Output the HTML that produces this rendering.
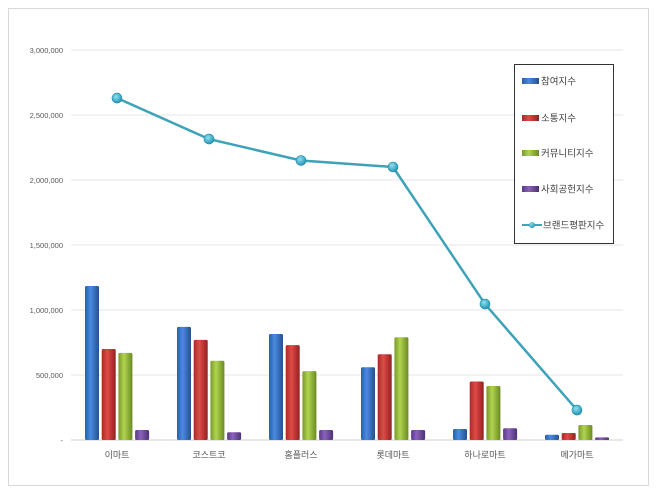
<!DOCTYPE html>
<html><head><meta charset="utf-8"><style>
body{margin:0;background:#fff;font-family:"Liberation Sans","Noto Sans CJK KR",sans-serif;}
</style></head><body>
<svg id="c" width="660" height="495" xmlns="http://www.w3.org/2000/svg">
<defs>
<linearGradient id="gb" x1="0" x2="1"><stop offset="0" stop-color="#2a5fa8"/><stop offset="0.4" stop-color="#4a8ae0"/><stop offset="1" stop-color="#24508f"/></linearGradient>
<linearGradient id="gr" x1="0" x2="1"><stop offset="0" stop-color="#a82a28"/><stop offset="0.4" stop-color="#e04a46"/><stop offset="1" stop-color="#902220"/></linearGradient>
<linearGradient id="gg" x1="0" x2="1"><stop offset="0" stop-color="#7a9a2a"/><stop offset="0.4" stop-color="#b0d450"/><stop offset="1" stop-color="#6a8a22"/></linearGradient>
<linearGradient id="gp" x1="0" x2="1"><stop offset="0" stop-color="#5a3a86"/><stop offset="0.4" stop-color="#8a62b8"/><stop offset="1" stop-color="#4c3074"/></linearGradient>
<radialGradient id="gm" cx="0.4" cy="0.35" r="0.7"><stop offset="0" stop-color="#8fe0f0"/><stop offset="1" stop-color="#1a8fae"/></radialGradient>
</defs>
<rect x="8.5" y="8.5" width="640" height="477" fill="#fff" stroke="#d9d9d9"/>
<g id="grid"></g><g id="bars"></g><g id="line"></g><g id="xl"></g>
<g>
<rect x="514.5" y="64.5" width="99" height="179" fill="#fff" stroke="#333"/>
</g>
<g id="leg"></g>
</svg>
<script>
const categories=["이마트","코스트코","홈플러스","롯데마트","하나로마트","메가마트"];
const participation=[1185000,870000,815000,560000,85000,40000];
const communication=[700000,770000,730000,660000,450000,54000];
const community=[670000,610000,530000,790000,415000,115000];
const social=[77000,60000,77000,77000,90000,20000];
const brandIndex=[2630000,2315000,2150000,2100000,1046000,230000];
const yTicks=[0,500000,1000000,1500000,2000000,2500000,3000000];
const yTickLabels=["-","500,000","1,000,000","1,500,000","2,000,000","2,500,000","3,000,000"];
const seriesNames=["참여지수","소통지수","커뮤니티지수","사회공헌지수","브랜드평판지수"];
const NS="http://www.w3.org/2000/svg";
const x0=71,x1=623,y0=440,yTop=50,yMax=3000000;
const bw=(x1-x0)/categories.length;
const y=v=>y0-(v/yMax)*(y0-yTop);
const xc=i=>x0+bw*(i+0.5);
function mk(t,a,p){const e=document.createElementNS(NS,t);for(const k in a)e.setAttribute(k,a[k]);p.appendChild(e);return e;}
const grid=document.getElementById('grid');
yTicks.forEach((t,i)=>{
 const l=mk('line',{x1:x0,x2:x1,y1:y(t),y2:y(t),stroke:i==0?'#d0d0d0':'#e6e6e6'},grid);
 
 
 const tx=mk('text',{x:63,y:y(t)+3,'text-anchor':'end','font-size':7.5,fill:'#595959'},grid);
 tx.textContent=yTickLabels[i];
 
 
});
const bars=document.getElementById('bars');
const series=[participation,communication,community,social];
const fills=['url(#gb)','url(#gr)','url(#gg)','url(#gp)'];
const names=['bar-participation','bar-communication','bar-community','bar-social'];
const w=14,gap=2.7;
categories.forEach((c,i)=>{
 series.forEach((s,j)=>{
  const bx=xc(i)-32+j*(w+gap);
  const r=mk('rect',{x:bx,y:y(s[i]),width:w,height:y0-y(s[i]),fill:fills[j],rx:1.5},bars);
  
  
 });
 const t=mk('text',{x:xc(i),y:458,'text-anchor':'middle','font-size':9,fill:'#595959'},document.getElementById('xl'));
 t.textContent=c;
 
 
});
const lg=document.getElementById('line');
const pts=brandIndex.map((v,i)=>xc(i)+','+y(v)).join(' ');
const pl=mk('polyline',{points:pts,fill:'none',stroke:'#3ea3b8','stroke-width':2.5},lg);


brandIndex.forEach((v,i)=>{
 const m=mk('circle',{cx:xc(i),cy:y(v),r:5,fill:'url(#gm)',stroke:'#1d8aa5','stroke-width':0.6},lg);
 
 
});
const leg=document.getElementById('leg');
const ly=[81,118,153,189,225];
seriesNames.forEach((n,i)=>{
 if(i<4){const r=mk('rect',{x:522,y:ly[i]-3,width:17,height:6,fill:fills[i]},leg);
  
  }
 else{mk('line',{x1:522,x2:542,y1:ly[i],y2:ly[i],stroke:'#3ea3b8','stroke-width':2},leg);
  const m=mk('circle',{cx:532,cy:ly[i],r:3,fill:'url(#gm)'},leg);
  
  }
 const t=mk('text',{x:i<4?541:543,y:ly[i]+3.5,'font-size':9.5,fill:'#404040'},leg);
 t.textContent=n;
 
 
});
</script>
</body></html>
